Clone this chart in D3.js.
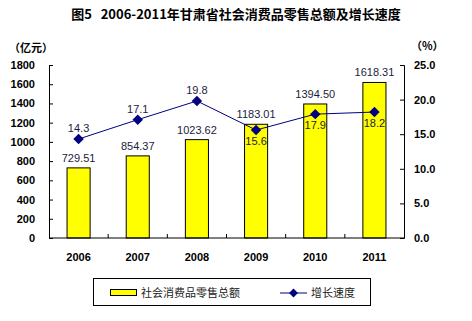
<!DOCTYPE html>
<html>
<head>
<meta charset="utf-8">
<script src="https://cdn.jsdelivr.net/npm/d3@7"></script>
<style>
	body { margin: 0; background: #fff; }
	svg { display: block; }
	.tick text { font-family: "Liberation Sans", Arial, sans-serif; font-weight: bold; font-size: 11px; fill: #000; }
	.lbl { font-family: "Liberation Sans", Arial, sans-serif; font-size: 11px; fill: #1c1c3c; }
	.cjk { font-family: "Noto Sans CJK SC", sans-serif; }
</style>
</head>
<body>
<svg id="chart"></svg>
<script>
let years = ["2006", "2007", "2008", "2009", "2010", "2011"];
let sales = [729.51, 854.37, 1023.62, 1183.01, 1394.50, 1618.31];
let growth = [14.3, 17.1, 19.8, 15.6, 17.9, 18.2];
let leftTicks = [0, 200, 400, 600, 800, 1000, 1200, 1400, 1600, 1800];
let rightTicks = [0, 5, 10, 15, 20, 25];
// where each growth label sits relative to its marker
let growthPos = ["above", "above", "above", "below", "below", "below"];

function makeChart() {
	let w = 472;
	let h = 321;
	let marginT = 65;
	let marginL = 49;
	let marginR = 68;
	let marginB = 83;

	let chart = d3.select('#chart')
		.attr('width', w)
		.attr('height', h);

	let xScale = d3.scaleBand()
		.domain(years)
		.range([marginL, w - marginR])
		.paddingInner(0.61)
		.paddingOuter(0.305);

	let yScale = d3.scaleLinear()
		.domain([0, 1800])
		.range([h - marginB, marginT]);

	let y2Scale = d3.scaleLinear()
		.domain([0, 25])
		.range([h - marginB, marginT]);

	let step = xScale.step();

	// title
	chart.append('text')
		.attr('class', 'cjk')
		.attr('x', 236)
		.attr('y', 19)
		.attr('text-anchor', 'middle')
		.style('font-size', '13px')
		.style('font-weight', 'bold')
		.style('white-space', 'pre')
		.text('图5   2006-2011年甘肃省社会消费品零售总额及增长速度');

	// unit labels
	chart.append('text')
		.attr('class', 'cjk')
		.attr('x', 9)
		.attr('y', 52)
		.style('font-size', '11px')
		.style('font-weight', 'bold')
		.text('（亿元）');

	chart.append('text')
		.attr('class', 'cjk')
		.attr('x', 411)
		.attr('y', 50)
		.style('font-size', '11px')
		.style('font-weight', 'bold')
		.text('（%）');

	// bars
	chart.selectAll('.bar')
		.data(sales)
		.enter()
		.append('rect')
		.attr('class', 'bar')
		.attr('x', (d, i) => xScale(years[i]))
		.attr('y', d => yScale(d))
		.attr('width', xScale.bandwidth())
		.attr('height', d => yScale(0) - yScale(d))
		.style('fill', '#ffff00')
		.style('stroke', '#000')
		.style('stroke-width', 1);

	// AXES
	let yAxis = d3.axisRight(yScale).tickValues(leftTicks).tickSize(4).tickFormat(d3.format('d'));
	let gL = chart.append('g')
		.attr('transform', `translate(${marginL}, 0)`)
		.call(yAxis);
	gL.select('.domain').attr('stroke', '#000');
	gL.selectAll('.tick line').attr('stroke', '#000');
	gL.selectAll('.tick text').attr('x', -14).style('text-anchor', 'end');

	let y2Axis = d3.axisLeft(y2Scale).tickValues(rightTicks).tickSize(4).tickFormat(d3.format('.1f'));
	let gR = chart.append('g')
		.attr('transform', `translate(${w - marginR}, 0)`)
		.call(y2Axis);
	gR.select('.domain').attr('stroke', '#000');
	gR.selectAll('.tick line').attr('stroke', '#000');
	gR.selectAll('.tick text').attr('x', 10).style('text-anchor', 'start');

	// bottom axis, ticks between categories
	let gB = chart.append('g')
		.attr('transform', `translate(0, ${h - marginB})`);
	gB.append('line')
		.attr('x1', marginL).attr('x2', w - marginR)
		.attr('stroke', '#000');
	gB.selectAll('.sep')
		.data(years.slice(1))
		.enter()
		.append('line')
		.attr('x1', d => xScale(d) - (step - xScale.bandwidth()) / 2)
		.attr('x2', d => xScale(d) - (step - xScale.bandwidth()) / 2)
		.attr('y1', 0).attr('y2', -4)
		.attr('stroke', '#000');
	gB.selectAll('.tick')
		.data(years)
		.enter()
		.append('g')
		.attr('class', 'tick')
		.append('text')
		.attr('x', d => xScale(d) + xScale.bandwidth() / 2)
		.attr('y', 23)
		.attr('text-anchor', 'middle')
		.text(d => d);

	// line
	let line = d3.line()
		.x((d, i) => xScale(years[i]) + xScale.bandwidth() / 2)
		.y(d => y2Scale(d));

	chart.append('path')
		.datum(growth)
		.attr('d', line)
		.style('fill', 'none')
		.style('stroke', '#000080')
		.style('stroke-width', 1);

	chart.selectAll('.marker')
		.data(growth)
		.enter()
		.append('path')
		.attr('class', 'marker')
		.attr('d', d3.symbol().type(d3.symbolDiamond2).size(70))
		.attr('transform', (d, i) => `translate(${xScale(years[i]) + xScale.bandwidth() / 2}, ${y2Scale(d)})`)
		.style('fill', '#000080');

	// LABELS
	chart.selectAll('.barlbl')
		.data(sales)
		.enter()
		.append('text')
		.attr('class', 'lbl')
		.attr('x', (d, i) => xScale(years[i]) + xScale.bandwidth() / 2)
		.attr('y', d => yScale(d) - 6)
		.attr('text-anchor', 'middle')
		.text(d => d.toFixed(2));

	chart.selectAll('.glbl')
		.data(growth)
		.enter()
		.append('text')
		.attr('class', 'lbl')
		.attr('x', (d, i) => xScale(years[i]) + xScale.bandwidth() / 2)
		.attr('y', (d, i) => growthPos[i] == 'above' ? y2Scale(d) - 7 : y2Scale(d) + 15)
		.attr('text-anchor', 'middle')
		.text(d => d.toFixed(1));

	// legend
	let leg = chart.append('g');
	leg.append('rect')
		.attr('x', 93.5).attr('y', 278.5)
		.attr('width', 277).attr('height', 27)
		.style('fill', '#fff')
		.style('stroke', '#000');
	leg.append('rect')
		.attr('x', 110.5).attr('y', 289.5)
		.attr('width', 26).attr('height', 6)
		.style('fill', '#ffff00')
		.style('stroke', '#000');
	leg.append('text')
		.attr('class', 'cjk')
		.attr('x', 141).attr('y', 297)
		.style('font-size', '11px')
		.style('fill', '#222')
		.text('社会消费品零售总额');
	leg.append('line')
		.attr('x1', 280).attr('x2', 307)
		.attr('y1', 293).attr('y2', 293)
		.style('stroke', '#000080');
	leg.append('path')
		.attr('d', d3.symbol().type(d3.symbolDiamond2).size(50))
		.attr('transform', 'translate(293.5, 293)')
		.style('fill', '#000080');
	leg.append('text')
		.attr('class', 'cjk')
		.attr('x', 311).attr('y', 297)
		.style('font-size', '11px')
		.style('fill', '#222')
		.text('增长速度');
}

window.onload = function () {
	makeChart();
}
</script>
</body>
</html>
